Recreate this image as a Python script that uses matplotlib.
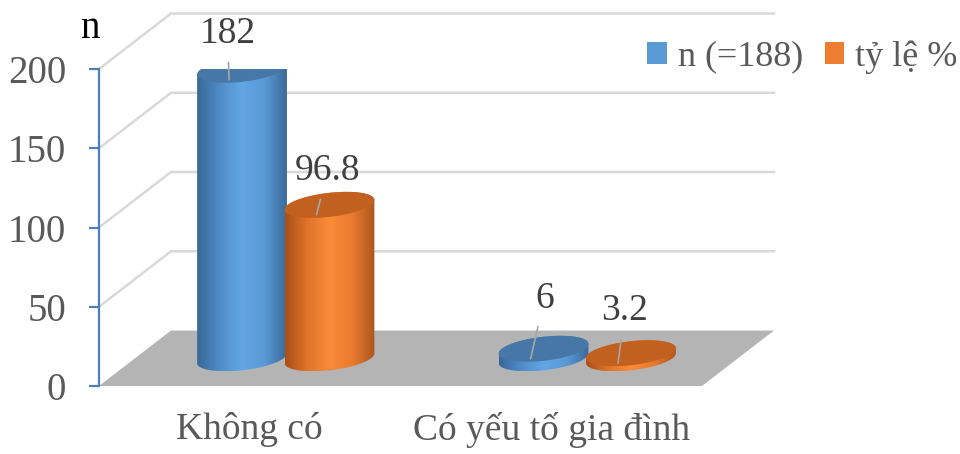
import numpy as np
import matplotlib.pyplot as plt
from matplotlib.patches import Polygon, Patch
from matplotlib.colors import LinearSegmentedColormap

plt.rc('font', family='Liberation Serif', size=27)

categories = ['Không có', 'Có yếu tố gia đình']
n_values = [182, 6]
pct_values = [96.8, 3.2]
series_names = ['n (=188)', 'tỷ lệ %']
yticks = [0, 50, 100, 150, 200]

# pseudo 3d: depth shift of the back wall (category units, value units)
DX = 0.2388
DY = 35.0
RW = 0.138   # cylinder half width
RD = 0.234   # cylinder half depth (fraction of floor depth)

blue_cmap = LinearSegmentedColormap.from_list(
    'b', ['#386898', '#4f8cc8', '#62a6e6', '#5a9ad6', '#3a6a99'])
orange_cmap = LinearSegmentedColormap.from_list(
    'o', ['#a94f18', '#e0742a', '#fb8b38', '#e87b2f', '#ad561d'])


def ellipse(cx, v, th):
    xs = cx + 0.5 * DX + RW * np.cos(th) + RD * DX * np.sin(th)
    ys = v + 0.5 * DY + RD * DY * np.sin(th)
    return np.column_stack([xs, ys])


def cylinder(ax, cx, v, cmap, topc, z):
    tr = np.arctan2(RD * DX, RW)
    tl = tr + np.pi
    front = ellipse(cx, 0, np.linspace(tl, tr + 2 * np.pi, 80))
    back = ellipse(cx, v, np.linspace(tr, tl, 80))
    body = Polygon(np.vstack([front, back]), closed=True, fc='none', ec='none', zorder=z)
    ax.add_patch(body)
    pts = body.get_xy()
    grad = np.linspace(0, 1, 256).reshape(1, -1)
    im = ax.imshow(grad, cmap=cmap, aspect='auto', zorder=z,
                   extent=[pts[:, 0].min(), pts[:, 0].max(), pts[:, 1].min(), pts[:, 1].max()])
    im.set_clip_path(body)
    top = ellipse(cx, v, np.linspace(0, 2 * np.pi, 120))
    ax.add_patch(Polygon(top, closed=True, fc=topc, ec='none', zorder=z + 0.1))


fig = plt.figure(figsize=(9.6, 4.54), dpi=100)
ax = fig.add_axes([99 / 960, 68 / 454, 675 / 960, 317 / 454])

# back wall gridlines
for v in yticks[1:]:
    ax.plot([-0.5, -0.5 + DX, 1.5 + DX], [v, v + DY, v + DY], color='#d9d9d9', lw=1.8,
            clip_on=False, zorder=1)

# floor
ax.add_patch(Polygon([(-0.5, 0), (1.5, 0), (1.5 + DX, DY), (-0.5 + DX, DY)],
                     closed=True, fc='#b4b4b4', ec='none', zorder=2, clip_on=False))

x = np.arange(len(categories))
offsets = [-0.145, 0.145]
label_off = [[(-1, 33), (10, 43.5)], [(8, 31.5), (5, 37.5)]]
series = [(n_values, blue_cmap, '#4677a6'), (pct_values, orange_cmap, '#c1601f')]
for s, (vals, cmap, topc) in enumerate(series):
    for i, v in enumerate(vals):
        cx = x[i] + offsets[s]
        cylinder(ax, cx, v, cmap, topc, 3 + s + i * 2)
        ax.annotate(f'{v:g}', xy=(cx + 0.32 * DX, v + 0.32 * DY),
                    xytext=label_off[s][i], textcoords='offset points',
                    ha='center', va='center', color='#404040', zorder=20,
                    annotation_clip=False,
                    arrowprops=dict(arrowstyle='-', color='#a6a6a6', lw=1.2,
                                    shrinkA=6, shrinkB=0))

ax.set_xlim(-0.5, 1.5 + DX)
ax.set_ylim(0, 200)
ax.patch.set_visible(False)
for side in ['top', 'right', 'bottom']:
    ax.spines[side].set_visible(False)
ax.spines['left'].set_color('#4f7fb5')
ax.spines['left'].set_linewidth(1.6)
ax.set_yticks(yticks)
ax.tick_params(axis='y', direction='out', length=7.5, width=1.6, color='#4f7fb5',
               pad=16, labelcolor='#595959', labelsize=28)
ax.set_xticks(x)
ax.set_xticklabels(categories)
ax.tick_params(axis='x', length=0, pad=19, labelcolor='#595959')

fig.text(90 / 960, 1 - 29 / 454, 'n', ha='center', va='center', color='black', fontsize=28)

handles = [Patch(fc='#5b9bd5'), Patch(fc='#ed7d31')]
fig.legend(handles, series_names, loc='center left', bbox_to_anchor=(647 / 960, 1 - 57 / 454),
           ncol=2, frameon=False, handlelength=0.55, handleheight=0.55, handletextpad=0.3,
           columnspacing=0.6, labelcolor='#595959', borderaxespad=0, borderpad=0,
           fontsize=26)

fig.savefig('out.png', dpi=100)
